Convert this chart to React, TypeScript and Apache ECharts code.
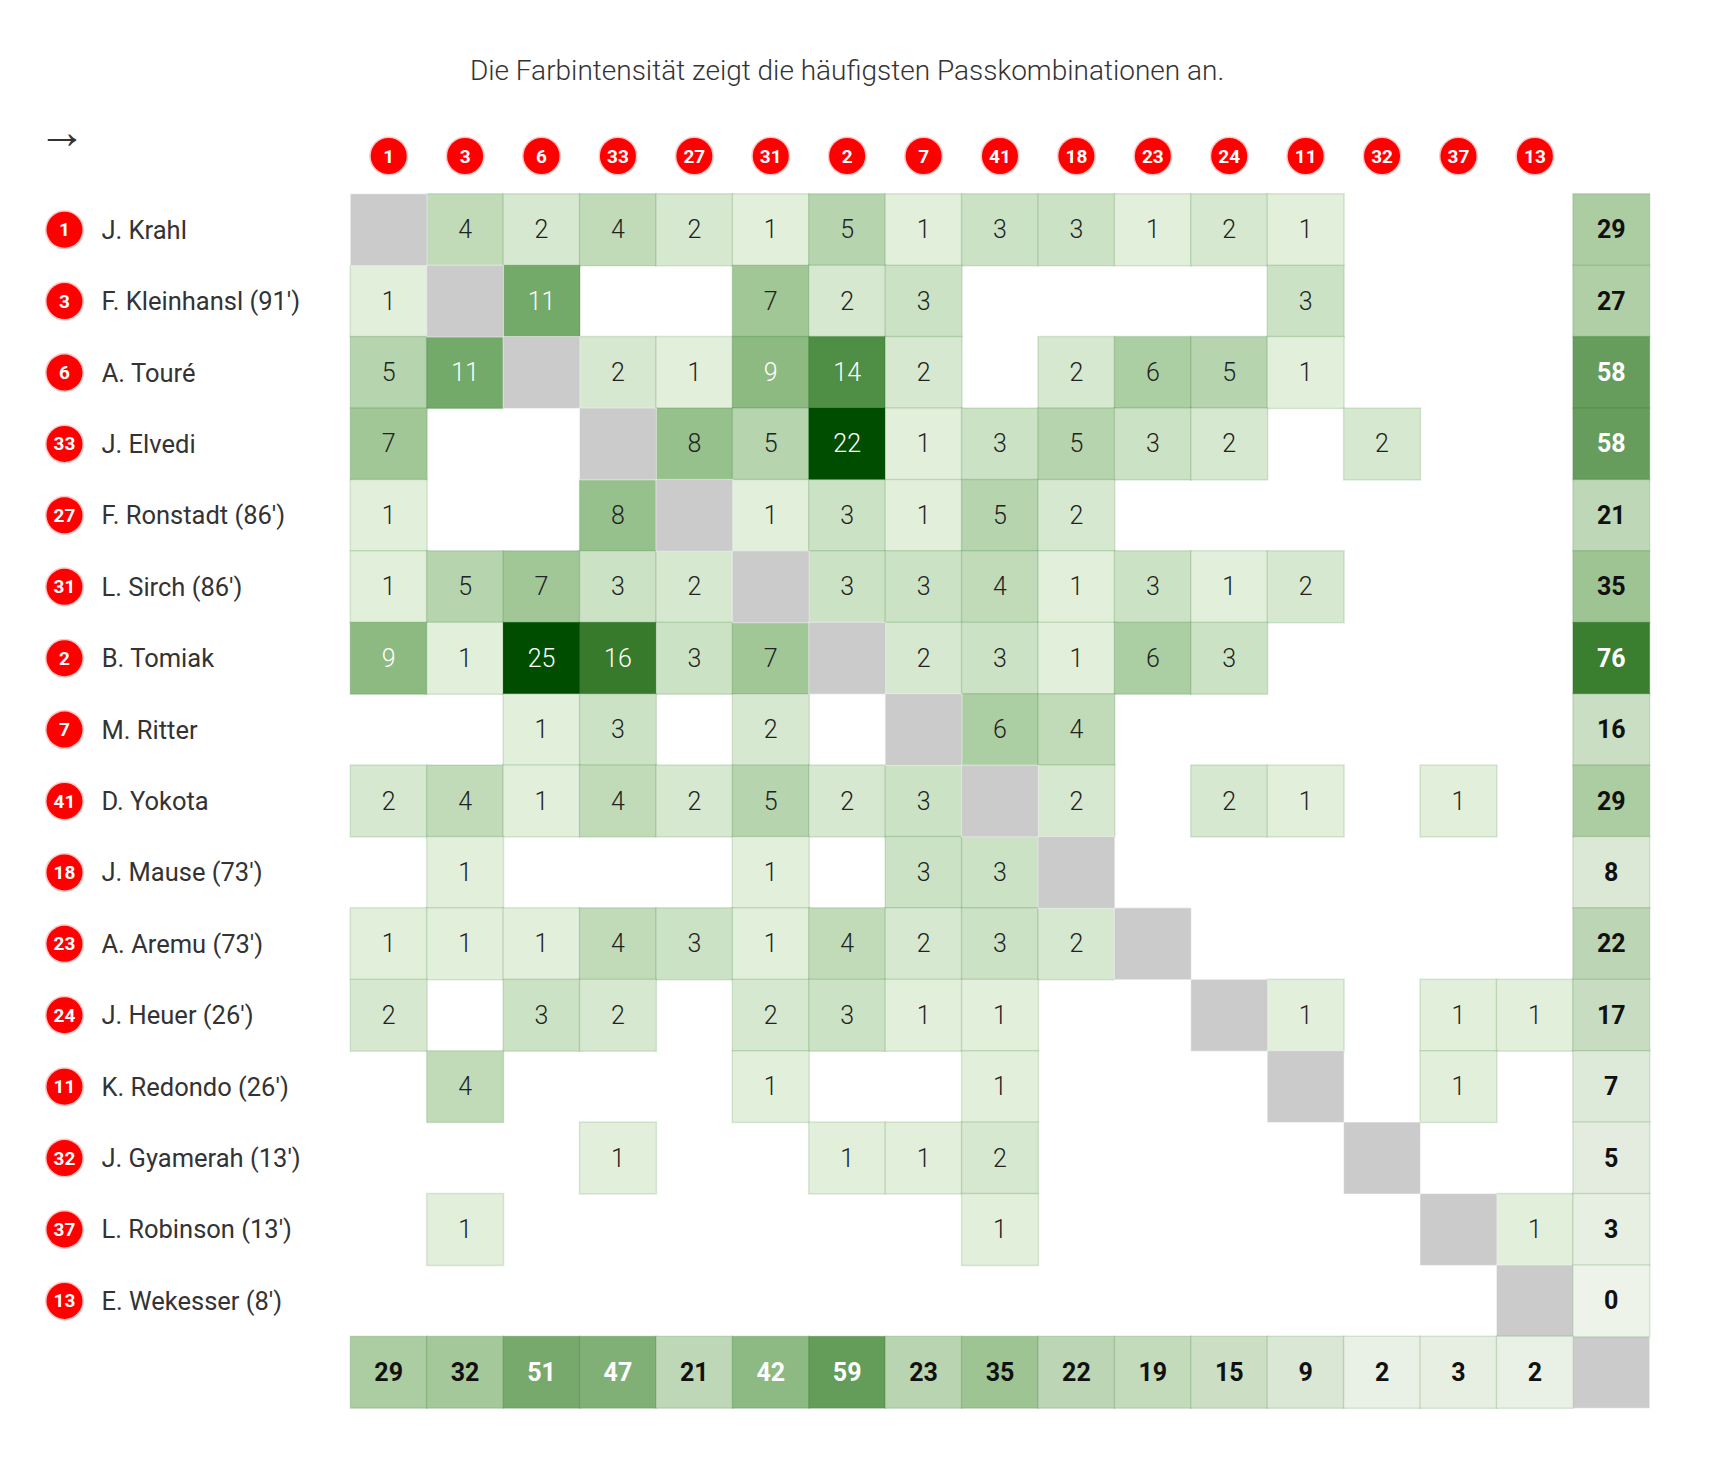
import React, { useEffect, useRef } from 'react';
import * as echarts from 'echarts';

const shirtNumbers = [1, 3, 6, 33, 27, 31, 2, 7, 41, 18, 23, 24, 11, 32, 37, 13];
const playerNames = [
  'J. Krahl',
  "F. Kleinhansl (91')",
  'A. Touré',
  'J. Elvedi',
  "F. Ronstadt (86')",
  "L. Sirch (86')",
  'B. Tomiak',
  'M. Ritter',
  'D. Yokota',
  "J. Mause (73')",
  "A. Aremu (73')",
  "J. Heuer (26')",
  "K. Redondo (26')",
  "J. Gyamerah (13')",
  "L. Robinson (13')",
  "E. Wekesser (8')",
];

const _ = null;
// passes from row player to column player (diagonal left empty)
const passMatrix: (number | null)[][] = [
  [_, 4, 2, 4, 2, 1, 5, 1, 3, 3, 1, 2, 1, _, _, _],
  [1, _, 11, _, _, 7, 2, 3, _, _, _, _, 3, _, _, _],
  [5, 11, _, 2, 1, 9, 14, 2, _, 2, 6, 5, 1, _, _, _],
  [7, _, _, _, 8, 5, 22, 1, 3, 5, 3, 2, _, 2, _, _],
  [1, _, _, 8, _, 1, 3, 1, 5, 2, _, _, _, _, _, _],
  [1, 5, 7, 3, 2, _, 3, 3, 4, 1, 3, 1, 2, _, _, _],
  [9, 1, 25, 16, 3, 7, _, 2, 3, 1, 6, 3, _, _, _, _],
  [_, _, 1, 3, _, 2, _, _, 6, 4, _, _, _, _, _, _],
  [2, 4, 1, 4, 2, 5, 2, 3, _, 2, _, 2, 1, _, 1, _],
  [_, 1, _, _, _, 1, _, 3, 3, _, _, _, _, _, _, _],
  [1, 1, 1, 4, 3, 1, 4, 2, 3, 2, _, _, _, _, _, _],
  [2, _, 3, 2, _, 2, 3, 1, 1, _, _, _, 1, _, 1, 1],
  [_, 4, _, _, _, 1, _, _, 1, _, _, _, _, _, 1, _],
  [_, _, _, 1, _, _, 1, 1, 2, _, _, _, _, _, _, _],
  [_, 1, _, _, _, _, _, _, 1, _, _, _, _, _, _, 1],
  [_, _, _, _, _, _, _, _, _, _, _, _, _, _, _, _],
];

const rowTotals = [29, 27, 58, 58, 21, 35, 76, 16, 29, 8, 22, 17, 7, 5, 3, 0];
const colTotals = [29, 32, 51, 47, 21, 42, 59, 23, 35, 22, 19, 15, 9, 2, 3, 2];

const titleText = 'Die Farbintensität zeigt die häufigsten Passkombinationen an.';
const FONT = 'Roboto';

export default function App() {
  const ref = useRef<HTMLDivElement>(null);

  useEffect(() => {
    document.body.style.margin = '0';
    const chart = echarts.init(ref.current!, null, { renderer: 'svg' });
    const n = shirtNumbers.length;
    const xCats = [...shirtNumbers.map(String), 'total'];
    const yCats = [...playerNames, 'total'];

    const passData: any[] = [];
    passMatrix.forEach((row, r) => {
      row.forEach((v, c) => {
        if (v !== null && v !== undefined) {
          passData.push({
            value: [c, r, v],
            label: { color: v >= 9 ? '#ffffff' : '#222222' },
          });
        }
      });
    });

    const diagData: any[] = [];
    for (let i = 0; i <= n; i++) diagData.push([i, i, 0]);

    const totalData: any[] = [];
    rowTotals.forEach((v, r) => {
      totalData.push({ value: [n, r, v], label: { color: v >= 42 ? '#ffffff' : '#111111' } });
    });
    colTotals.forEach((v, c) => {
      totalData.push({ value: [c, n, v], label: { color: v >= 42 ? '#ffffff' : '#111111' } });
    });

    const circle = {
      width: 36,
      height: 36,
      lineHeight: 36,
      borderRadius: 18,
      backgroundColor: '#ff0000',
      borderColor: '#ffc4c4',
      borderWidth: 1.5,
      color: '#ffffff',
      align: 'center',
      verticalAlign: 'middle',
      fontFamily: FONT,
      fontSize: 19,
      fontWeight: 'bold',
    };

    const option: any = {
      animation: false,
      backgroundColor: '#ffffff',
      textStyle: { fontFamily: FONT },
      graphic: [
        {
          type: 'text',
          x: 847,
          y: 70,
          style: {
            text: titleText,
            fontFamily: FONT,
            fontSize: 28,
            fontWeight: 300,
            fill: '#333333',
            textAlign: 'center',
            textVerticalAlign: 'middle',
          },
        },
        {
          type: 'text',
          x: 38,
          y: 131,
          style: {
            text: '→',
            fontFamily: FONT,
            fontSize: 48,
            fontWeight: 300,
            fill: '#333333',
            textAlign: 'left',
            textVerticalAlign: 'middle',
          },
        },
      ],
      grid: { left: 350.5, top: 194, width: 1299, height: 1214, containLabel: false },
      xAxis: {
        type: 'category',
        position: 'top',
        data: xCats,
        axisLine: { show: false },
        axisTick: { show: false },
        splitLine: { show: false },
        axisLabel: {
          interval: 0,
          margin: 20,
          formatter: (v: string) => (v === 'total' ? '' : '{c|' + v + '}'),
          rich: { c: circle },
        },
      },
      yAxis: {
        type: 'category',
        inverse: true,
        data: yCats,
        axisLine: { show: false },
        axisTick: { show: false },
        splitLine: { show: false },
        axisLabel: {
          interval: 0,
          align: 'left',
          margin: 304,
          formatter: (v: string, i: number) =>
            v === 'total' ? '' : '{c|' + shirtNumbers[i] + '}{n|' + v + '}',
          rich: {
            c: circle,
            n: {
              fontFamily: FONT,
              fontSize: 25.5,
              color: '#333333',
              padding: [0, 0, 0, 19],
              verticalAlign: 'middle',
            },
          },
        },
      },
      visualMap: [
        {
          type: 'continuous',
          show: false,
          seriesIndex: 0,
          dimension: 2,
          min: 1,
          max: 21,
          inRange: { color: ['#e2efdb', '#b6d4ae', '#8cba80', '#5a9851', '#2b7020', '#004d00'] },
        },
        {
          type: 'continuous',
          show: false,
          seriesIndex: 1,
          dimension: 2,
          min: 0,
          max: 1,
          inRange: { color: ['#cbcbcb', '#cbcbcb'] },
        },
        {
          type: 'continuous',
          show: false,
          seriesIndex: 2,
          dimension: 2,
          min: 0,
          max: 76,
          inRange: { color: ['#eef3ea', '#97c08c', '#3a7e30'] },
        },
      ],
      series: [
        {
          name: 'passes',
          type: 'heatmap',
          data: passData,
          itemStyle: { borderColor: 'rgba(0,90,0,0.13)', borderWidth: 1.5 },
          label: {
            show: true,
            fontFamily: FONT,
            fontSize: 25,
            fontWeight: 300,
            formatter: (p: any) => String(p.value[2]),
          },
          emphasis: { disabled: true },
        },
        {
          name: 'diagonal',
          type: 'heatmap',
          data: diagData,
          itemStyle: { borderColor: 'rgba(255,255,255,0.5)', borderWidth: 1 },
          label: { show: false },
          emphasis: { disabled: true },
        },
        {
          name: 'totals',
          type: 'heatmap',
          data: totalData,
          itemStyle: { borderColor: 'rgba(0,90,0,0.13)', borderWidth: 1.5 },
          label: {
            show: true,
            fontFamily: FONT,
            fontSize: 25,
            fontWeight: 'bold',
            formatter: (p: any) => String(p.value[2]),
          },
          emphasis: { disabled: true },
        },
      ],
    };

    chart.setOption(option);
    return () => chart.dispose();
  }, []);

  return <div ref={ref} style={{ width: 1724, height: 1466 }} />;
}
